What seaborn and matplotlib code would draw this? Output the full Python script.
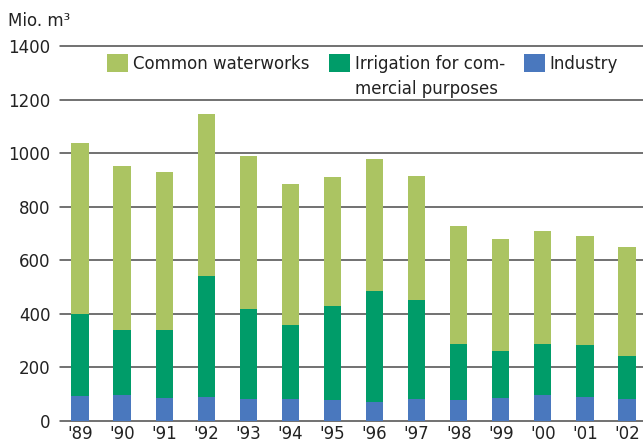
import numpy as np
import pandas as pd
import matplotlib
matplotlib.use("Agg")
import matplotlib.pyplot as plt
import seaborn as sns
from matplotlib.patches import Patch

# ----------------------------
# Data (Mio. m3)
# ----------------------------
years = ["'89", "'90", "'91", "'92", "'93", "'94", "'95",
         "'96", "'97", "'98", "'99", "'00", "'01", "'02"]
industry = [95, 98, 87, 91, 83, 83, 80, 72, 83, 80, 87, 98, 91, 83]
irrigation = [305, 243, 254, 452, 337, 277, 351, 415, 367, 209, 176, 191, 191, 161]
waterworks = [638, 611, 588, 603, 569, 525, 480, 491, 464, 439, 416, 420, 408, 405]

labels = ["Common waterworks", "Irrigation for com-", "Industry"]
label_extra = "mercial purposes"
colors = ["#abc462", "#009c69", "#4a78be"]

df = pd.DataFrame({
    "year": years,
    "industry": industry,
    "irrigation": irrigation,
    "waterworks": waterworks,
})
# stacked by overdrawing cumulative heights
df["lvl_ind"] = df["industry"]
df["lvl_irr"] = df["industry"] + df["irrigation"]
df["lvl_all"] = df["lvl_irr"] + df["waterworks"]

# ----------------------------
# Plot
# ----------------------------
sns.set_style("white")
plt.rcParams["font.family"] = ["DejaVu Sans"]
plt.rcParams["font.size"] = 12

fig = plt.figure(figsize=(6.43, 4.44), dpi=100)
ax = fig.add_axes([60 / 643, 23 / 444, 583 / 643, 375 / 444])

for col, c in zip(["lvl_all", "lvl_irr", "lvl_ind"], colors):
    sns.barplot(data=df, x="year", y=col, color=c, saturation=1,
                width=0.41, ax=ax, zorder=3, linewidth=0, edgecolor="none")

ax.set_ylim(0, 1400)
ax.set_xlim(-0.476, 13.38)
ax.set_yticks(range(0, 1401, 200))
ax.yaxis.grid(True, color="#4a4a4a", linewidth=1.1, zorder=0)
ax.set_axisbelow(True)
sns.despine(ax=ax, left=True, bottom=True, top=True, right=True)
ax.tick_params(axis="both", length=0, labelsize=12, colors="#222222")
ax.tick_params(axis="y", pad=7)
ax.tick_params(axis="x", pad=3)
ax.set_xlabel("")
ax.set_ylabel("")
for gl in ax.get_ygridlines():
    gl.set_clip_on(False)

fig.text(8 / 643, 1 - 21 / 444, "Mio. m³", fontsize=12, color="#222222",
         va="center", ha="left")

handles = [Patch(facecolor=c, edgecolor="none") for c in colors]
leg = ax.legend(handles, labels, ncol=3, frameon=False,
                loc="upper left", bbox_to_anchor=(104 / 643, 1 - 51 / 444),
                bbox_transform=fig.transFigure,
                handlelength=1.25, handleheight=1.3, handletextpad=0.3,
                columnspacing=1.15, borderaxespad=0, borderpad=0.2,
                fontsize=12, labelcolor="#222222")

# second line of the wrapped irrigation label, under the first line
fig.canvas.draw()
bb = leg.get_texts()[1].get_window_extent().transformed(fig.transFigure.inverted())
fig.text(bb.x0, bb.y0 - 7 / 444, label_extra, fontsize=12, color="#222222",
         ha="left", va="top")

fig.savefig("out.png", dpi=100)
